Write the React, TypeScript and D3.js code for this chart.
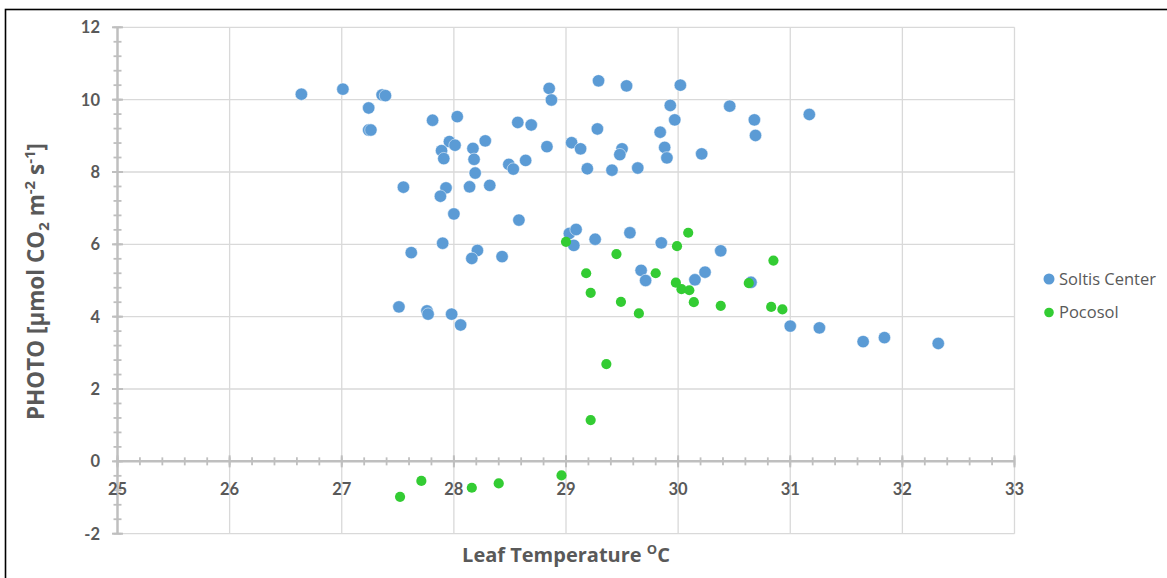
import React from "react";
import * as d3 from "d3";

// Leaf temperature (°C) and photosynthesis readings
const soltisTemp = [
  26.64, 27.01, 27.36, 27.39, 27.24, 27.24, 27.26, 27.81, 28.03, 27.96,
  28.01, 27.89, 27.91, 28.17, 28.18, 28.28, 28.19, 27.55, 27.93, 27.88,
  28.14, 28.32, 28.0, 27.62, 27.9, 28.21, 28.16, 28.43, 27.51, 27.76,
  27.77, 27.98, 28.06, 28.57, 28.69, 28.85, 28.87, 28.83, 29.05, 29.13,
  29.19, 28.49, 28.53, 28.64, 28.58, 29.29, 29.28, 29.03, 29.09, 29.07,
  29.26, 29.54, 30.02, 29.93, 29.97, 30.46, 30.68, 30.69, 31.17, 29.84,
  29.5, 29.48, 29.88, 29.9, 30.21, 29.41, 29.64, 29.57, 29.85, 30.38,
  29.67, 29.71, 30.15, 30.24, 30.65, 31.0, 31.26, 31.65, 31.84, 32.32,
];
const soltisPhoto = [
  10.15, 10.29, 10.13, 10.11, 9.77, 9.16, 9.16, 9.43, 9.53, 8.84,
  8.74, 8.59, 8.37, 8.65, 8.35, 8.86, 7.97, 7.58, 7.56, 7.33,
  7.59, 7.63, 6.84, 5.77, 6.03, 5.83, 5.61, 5.66, 4.27, 4.16,
  4.07, 4.07, 3.77, 9.37, 9.3, 10.31, 9.99, 8.7, 8.81, 8.64,
  8.09, 8.21, 8.08, 8.32, 6.67, 10.52, 9.19, 6.3, 6.41, 5.97,
  6.14, 10.38, 10.4, 9.84, 9.44, 9.82, 9.44, 9.01, 9.59, 9.1,
  8.64, 8.48, 8.68, 8.39, 8.5, 8.05, 8.11, 6.32, 6.04, 5.82,
  5.28, 5.0, 5.02, 5.23, 4.95, 3.74, 3.69, 3.31, 3.42, 3.26,
];
const pocosolTemp = [
  29.0, 30.09, 29.99, 29.45, 29.18, 29.22, 29.8, 29.98, 30.03, 30.1,
  30.14, 30.38, 29.49, 29.65, 30.85, 30.63, 30.83, 30.93, 29.36, 29.22,
  27.52, 27.71, 28.16, 28.4, 28.96,
];
const pocosolPhoto = [
  6.07, 6.32, 5.95, 5.73, 5.2, 4.66, 5.2, 4.94, 4.76, 4.73,
  4.4, 4.3, 4.41, 4.09, 5.55, 4.93, 4.27, 4.2, 2.69, 1.14,
  -0.98, -0.54, -0.73, -0.61, -0.39,
];

const seriesNames = ["Soltis Center", "Pocosol"];
const seriesColors = ["#5b9bd5", "#33cc33"];
const xTicks = [25, 26, 27, 28, 29, 30, 31, 32, 33];
const yTicks = [-2, 0, 2, 4, 6, 8, 10, 12];

const W = 1167;
const H = 578;
const textColor = "#595959";
const axisColor = "#bfbfbf";
const gridColor = "#d9d9d9";
const font = "Lato, 'Open Sans', sans-serif";
const titleFont = "'Open Sans', Lato, sans-serif";

export default function App() {
  const x = d3.scaleLinear().domain([25, 33]).range([117.5, 1014.5]);
  const y = d3.scaleLinear().domain([-2, 12]).range([533.7, 27.3]);

  const xMinor = d3.range(25, 33.001, 0.2);
  const yMinor = d3.range(-2, 12.001, 0.4);

  const soltis = soltisTemp.map((t, i) => [t, soltisPhoto[i]]);
  const pocosol = pocosolTemp.map((t, i) => [t, pocosolPhoto[i]]);

  return (
    <div style={{ position: "absolute", left: 0, top: 0 }}>
      <svg width={W} height={H} style={{ display: "block", fontFamily: font }}>
        <rect x={0} y={0} width={W} height={H} fill="#fff" />
        <rect x={5.5} y={9.5} width={1300} height={700} fill="none" stroke="#000" strokeWidth={1.6} />

        {/* grid */}
        {xTicks.slice(1).map((t) => (
          <line key={"gx" + t} x1={x(t)} x2={x(t)} y1={y(12)} y2={y(-2)} stroke={gridColor} strokeWidth={1.3} />
        ))}
        {yTicks.filter((t) => t !== 0).map((t) => (
          <line key={"gy" + t} x1={x(25)} x2={x(33)} y1={y(t)} y2={y(t)} stroke={gridColor} strokeWidth={1.3} />
        ))}

        {/* y axis */}
        {yMinor.map((t, i) => (
          <line key={"ym" + i} x1={x(25) - 4} x2={x(25) + 4} y1={y(t)} y2={y(t)} stroke={axisColor} strokeWidth={1.8} />
        ))}
        {yTicks.map((t) => (
          <line key={"yM" + t} x1={x(25) - 5.5} x2={x(25) + 5.5} y1={y(t)} y2={y(t)} stroke={axisColor} strokeWidth={2} />
        ))}
        <line x1={x(25)} x2={x(25)} y1={y(12)} y2={y(-2)} stroke={axisColor} strokeWidth={2.5} />

        {/* x axis at zero */}
        {xMinor.map((t, i) => (
          <line key={"xm" + i} x1={x(t)} x2={x(t)} y1={y(0) - 4} y2={y(0) + 4} stroke={axisColor} strokeWidth={1.8} />
        ))}
        {xTicks.map((t) => (
          <line key={"xM" + t} x1={x(t)} x2={x(t)} y1={y(0) - 6} y2={y(0) + 6} stroke={axisColor} strokeWidth={2} />
        ))}
        <line x1={x(25)} x2={x(33)} y1={y(0)} y2={y(0)} stroke={axisColor} strokeWidth={2.5} />

        {/* tick labels */}
        {yTicks.map((t) => (
          <text key={"yl" + t} x={100} y={y(t)} dy="0.36em" textAnchor="end" fontSize={16.5} fontWeight="bold" fill={textColor}>
            {t}
          </text>
        ))}
        {xTicks.map((t) => (
          <text key={"xl" + t} x={x(t)} y={495} textAnchor="middle" fontSize={16.5} fontWeight="bold" fill={textColor}>
            {t}
          </text>
        ))}

        {/* points */}
        {soltis.map((d, i) => (
          <circle key={"s" + i} cx={x(d[0])} cy={y(d[1])} r={6.2} fill={seriesColors[0]} stroke="#fff" strokeWidth={0.5} />
        ))}
        {pocosol.map((d, i) => (
          <circle key={"p" + i} cx={x(d[0])} cy={y(d[1])} r={5.1} fill={seriesColors[1]} />
        ))}

        {/* axis titles */}
        <text transform="translate(44,281.5) rotate(-90)" textAnchor="middle" fontFamily={titleFont} fontSize={22.5} fontWeight="bold" fill={textColor}>
          PHOTO [μmol CO<tspan fontSize={15} dy={5}>2</tspan>
          <tspan dy={-5}> m</tspan>
          <tspan fontSize={15} dy={-9}>-2</tspan>
          <tspan dy={9}> s</tspan>
          <tspan fontSize={15} dy={-9}>-1</tspan>
          <tspan dy={9}>]</tspan>
        </text>
        <text x={566} y={562} textAnchor="middle" fontFamily={titleFont} fontSize={20} fontWeight="bold" fill={textColor}>
          Leaf Temperature <tspan fontSize={13} dy={-8}>O</tspan>
          <tspan dy={8}>C</tspan>
        </text>

        {/* legend */}
        {seriesNames.map((n, i) => (
          <g key={n} transform={`translate(1049,${279 + i * 33.5})`}>
            <circle r={i === 0 ? 5.5 : 4.8} fill={seriesColors[i]} />
            <text x={10} y={0} dy="0.35em" fontFamily={titleFont} fontSize={16.5} fill={textColor}>
              {n}
            </text>
          </g>
        ))}
      </svg>
    </div>
  );
}
